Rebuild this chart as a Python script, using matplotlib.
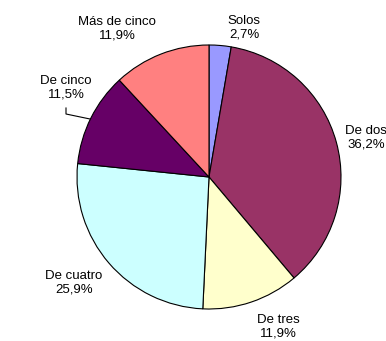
import matplotlib
matplotlib.use("Agg")
import matplotlib.pyplot as plt

categories = ["Solos", "De dos", "De tres", "De cuatro", "De cinco", "Más de cinco"]
values = [2.7, 36.2, 11.9, 25.9, 11.5, 11.9]
pct_labels = ["2,7%", "36,2%", "11,9%", "25,9%", "11,5%", "11,9%"]
colors = ["#9999FF", "#993366", "#FFFFCC", "#CCFFFF", "#660066", "#FF8080"]

plt.rcParams['font.family'] = ['Liberation Sans', 'DejaVu Sans']

W, H = 386, 341
cx, cy, R = 209, 177, 132

def px(x, y):
  # pixel position -> data units (pie radius = 1)
  return (x - cx) / R, (cy - y) / R

fig = plt.figure(figsize=(W / 100, H / 100), dpi=100)
ax = fig.add_axes([0, 0, 1, 1])
ax.pie(values, colors=colors, startangle=90, counterclock=False,
       wedgeprops=dict(edgecolor="black", linewidth=0.8))
ax.set_xlim(-cx / R, (W - cx) / R)
ax.set_ylim(-(H - cy) / R, cy / R)
ax.set_aspect("equal")
ax.axis("off")

label_pos = [(244, 28), (366, 138), (278, 327), (74, 283), (66, 88), (117, 29)]
for name, pct, (lx, ly) in zip(categories, pct_labels, label_pos):
  x, y = px(lx, ly)
  ax.text(x, y, name + "\n" + pct, ha="center", va="center", fontsize=9.5,
          linespacing=1.15, clip_on=False)

# leader line for De cinco
p1 = px(66, 108)
p2 = px(66, 114)
p3 = px(90, 119)
ax.plot([p1[0], p2[0], p3[0]], [p1[1], p2[1], p3[1]], color="black", linewidth=0.8)

fig.savefig("out.png", dpi=100)
